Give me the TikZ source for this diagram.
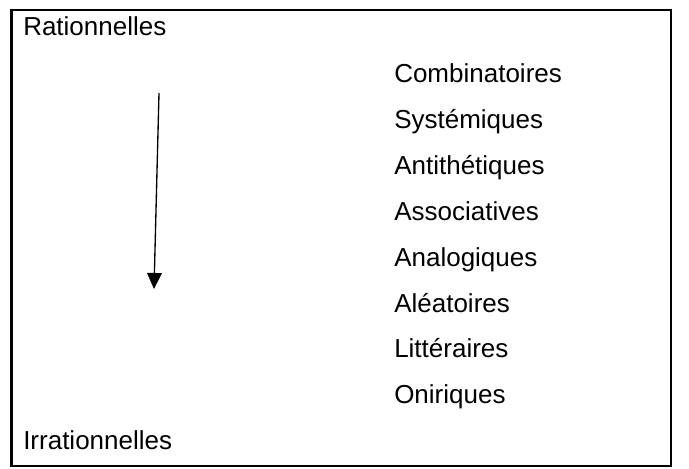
\documentclass[tikz,border=0pt]{standalone}
\usepackage{fontspec}
\setmainfont{Liberation Sans}
\usetikzlibrary{arrows.meta}
\begin{document}
\begin{tikzpicture}[x=0.75pt,y=-0.75pt,
  lbl/.style={anchor=base west,inner sep=0pt,font=\fontsize{19.5}{23}\selectfont},
  frame/.style={line width=1.6pt},
  trend/.style={line width=1pt,-{Triangle[length=12pt,width=11pt]}}]
\useasboundingbox (0,0) rectangle (689,468);
% outer frame
\draw[frame] (11.5,10) rectangle (671,466);
% extremes of the scale
\node[lbl] (rat) at (23,35) {Rationnelles};
\node[lbl] (irr) at (23,449) {Irrationnelles};
% kinds of links, from rational to irrational
\node[lbl] (c1) at (394,82) {Combinatoires};
\node[lbl] (c2) at (394,128) {Systémiques};
\node[lbl] (c3) at (394,174) {Antithétiques};
\node[lbl] (c4) at (394,220) {Associatives};
\node[lbl] (c5) at (394,266) {Analogiques};
\node[lbl] (c6) at (394,312) {Aléatoires};
\node[lbl] (c7) at (394,357) {Littéraires};
\node[lbl] (c8) at (394,403) {Oniriques};
% direction arrow
\coordinate (atop) at (159,93);
\coordinate (abot) at (154,289);
\draw[trend] (atop) -- (abot);
\end{tikzpicture}
\end{document}
